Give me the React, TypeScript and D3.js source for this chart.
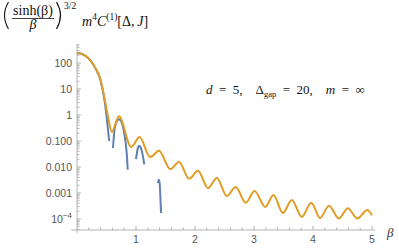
import { useEffect, useRef } from 'react'
import * as d3 from 'd3'

// orange: full curve
const orangeBeta = [0, 0.1, 0.2, 0.3, 0.4, 0.47, 0.52, 0.59, 0.71, 0.92, 1.06, 1.24, 1.39, 1.58, 1.73, 1.9, 2.05, 2.22, 2.37, 2.54, 2.69, 2.86, 3.01, 3.19, 3.33, 3.49, 3.64, 3.81, 3.97, 4.12, 4.27, 4.44, 4.59, 4.75, 4.92, 5.0]
const orangeValue = [240, 214, 148, 71, 22.4, 3.98, 1.0, 0.224, 0.89, 0.059, 0.141, 0.024, 0.042, 0.0083, 0.0155, 0.0035, 0.0071, 0.00155, 0.0038, 0.00076, 0.0017, 0.00042, 0.0012, 0.00029, 0.00083, 0.00017, 0.00054, 0.00012, 0.00042, 0.00011, 0.00032, 0.000105, 0.00026, 0.000105, 0.00022, 0.00014]

// blue: truncated pieces
const blueBeta = [
  [0, 0.1, 0.2, 0.3, 0.4, 0.47, 0.51, 0.545],
  [0.61, 0.64, 0.68, 0.71, 0.75, 0.8, 0.84, 0.86],
  [1.0, 1.03, 1.05, 1.08, 1.11, 1.14],
  [1.373, 1.385, 1.4, 1.41, 1.425]
]
const blueValue = [
  [240, 214, 148, 70, 21, 3.2, 0.6, 0.1],
  [0.054, 0.32, 0.6, 0.68, 0.56, 0.2, 0.04, 0.0079],
  [0.02, 0.052, 0.065, 0.056, 0.032, 0.0126],
  [0.0024, 0.0032, 0.0025, 0.001, 0.00017]
]

const xTicks = [1, 2, 3, 4, 5]
const yTicks = [100, 10, 1, 0.1, 0.01, 0.001, 0.0001]
const yTickLabels = ['100', '10', '1', '0.100', '0.010', '0.001', '10^-4']

export default function App() {
  const ref = useRef<SVGSVGElement>(null)

  useEffect(() => {
    const svg = d3.select(ref.current)
    svg.selectAll('*').remove()

    const x = d3.scaleLinear().domain([0, 5]).range([77, 372])
    const y = d3.scaleLog().domain([1e-4, 100]).range([219, 63])
    const axisColor = '#b3b3b3'
    const labelColor = '#555'

    // axes lines
    svg.append('line')
      .attr('x1', 71).attr('x2', 375)
      .attr('y1', 230).attr('y2', 230)
      .attr('stroke', axisColor)
    svg.append('line')
      .attr('x1', 77).attr('x2', 77)
      .attr('y1', 44).attr('y2', 233)
      .attr('stroke', axisColor)

    // x ticks
    const xMinor = d3.range(0.2, 5.01, 0.2).filter(d => Math.abs(d - Math.round(d)) > 0.01)
    svg.append('g').selectAll('line').data(xMinor).join('line')
      .attr('x1', d => x(d)).attr('x2', d => x(d))
      .attr('y1', 230).attr('y2', 227.5)
      .attr('stroke', axisColor)
    svg.append('g').selectAll('line').data(xTicks).join('line')
      .attr('x1', d => x(d)).attr('x2', d => x(d))
      .attr('y1', 230).attr('y2', 226)
      .attr('stroke', axisColor)
    svg.append('g').selectAll('text').data(xTicks).join('text')
      .attr('x', d => x(d)).attr('y', 242.5)
      .attr('text-anchor', 'middle')
      .attr('font-family', 'Liberation Sans, sans-serif')
      .attr('font-size', 10.5)
      .attr('fill', labelColor)
      .text(d => d)

    // y ticks
    const yMinor: number[] = []
    for (let e = -5; e <= 2; e++) {
      for (let k = 2; k <= 9; k++) {
        const v = k * Math.pow(10, e)
        if (y(v) >= 44 && y(v) <= 230) yMinor.push(v)
      }
    }
    svg.append('g').selectAll('line').data(yMinor).join('line')
      .attr('x1', 77).attr('x2', 79.5)
      .attr('y1', d => y(d)).attr('y2', d => y(d))
      .attr('stroke', axisColor)
    svg.append('g').selectAll('line').data(yTicks).join('line')
      .attr('x1', 77).attr('x2', 81)
      .attr('y1', d => y(d)).attr('y2', d => y(d))
      .attr('stroke', axisColor)
    const yl = svg.append('g').selectAll('text').data(yTicks).join('text')
      .attr('x', 72).attr('y', d => y(d) + 3.8)
      .attr('text-anchor', 'end')
      .attr('font-family', 'Liberation Sans, sans-serif')
      .attr('font-size', 10.5)
      .attr('fill', labelColor)
    yl.each(function (_d, i) {
      const t = d3.select(this)
      const lab = yTickLabels[i]
      if (lab.includes('^')) {
        const [b, p] = lab.split('^')
        t.append('tspan').text(b)
        t.append('tspan').attr('dy', -4.5).attr('font-size', 8).text(p.replace('-', '\u2212'))
      } else {
        t.text(lab)
      }
    })

    // curves
    const line = d3.line<[number, number]>()
      .x(d => x(d[0]))
      .y(d => y(d[1]))
      .curve(d3.curveMonotoneX)

    blueBeta.forEach((bs, i) => {
      const pts = bs.map((b, j) => [b, blueValue[i][j]] as [number, number])
      svg.append('path')
        .attr('d', line(pts))
        .attr('fill', 'none')
        .attr('stroke', '#5e81b5')
        .attr('stroke-width', 2)
    })
    const opts = orangeBeta.map((b, j) => [b, orangeValue[j]] as [number, number])
    svg.append('path')
      .attr('d', line(opts))
      .attr('fill', 'none')
      .attr('stroke', '#e19c24')
      .attr('stroke-width', 2)

    // axis label beta
    svg.append('text')
      .attr('x', 387).attr('y', 237)
      .attr('font-family', 'Liberation Serif, serif')
      .attr('font-style', 'italic')
      .attr('font-size', 13)
      .attr('fill', '#333')
      .text('β')

    // annotation
    const ann = svg.append('text')
      .attr('x', 206).attr('y', 94)
      .attr('font-family', 'Liberation Serif, serif')
      .attr('font-size', 13)
      .attr('fill', '#111')
    ann.append('tspan').attr('font-style', 'italic').text('d')
    ann.append('tspan').text('\u2002=\u20025,\u2003Δ')
    ann.append('tspan').attr('font-size', 8.5).attr('dy', 3).text('gap')
    ann.append('tspan').attr('dy', -3).text('\u2002=\u200220,\u2003')
    ann.append('tspan').attr('font-style', 'italic').text('m')
    ann.append('tspan').text('\u2002=\u2002∞')

    // y label
    const g = svg.append('g')
      .attr('font-family', 'Liberation Serif, serif')
      .attr('fill', '#111')
    g.append('path').attr('d', 'M 8.5 2 Q 0.5 15.5 8.5 29')
      .attr('fill', 'none').attr('stroke', '#111').attr('stroke-width', 1.1)
    g.append('path').attr('d', 'M 56.5 2 Q 64.5 15.5 56.5 29')
      .attr('fill', 'none').attr('stroke', '#111').attr('stroke-width', 1.1)
    g.append('text').attr('x', 33).attr('y', 14.5).attr('font-size', 14)
      .attr('text-anchor', 'middle').text('sinh(β)')
    g.append('line').attr('x1', 12).attr('x2', 54).attr('y1', 18.5).attr('y2', 18.5)
      .attr('stroke', '#111').attr('stroke-width', 0.8)
    g.append('text').attr('x', 33).attr('y', 29).attr('font-size', 14)
      .attr('text-anchor', 'middle').attr('font-style', 'italic').text('β')
    g.append('text').attr('x', 64).attr('y', 9).attr('font-size', 9.5).text('3/2')
    const yt = g.append('text').attr('x', 82).attr('y', 26).attr('font-size', 14)
    yt.append('tspan').attr('font-style', 'italic').text('m')
    yt.append('tspan').attr('font-size', 9.5).attr('dy', -6).text('4')
    yt.append('tspan').attr('dy', 6).attr('font-style', 'italic').text('C')
    yt.append('tspan').attr('font-size', 9.5).attr('dy', -6).text('(1)')
    yt.append('tspan').attr('dy', 6).text('[Δ,\u2009')
    yt.append('tspan').attr('font-style', 'italic').text('J')
    yt.append('tspan').text(']')
  }, [])

  return (
    <svg ref={ref} width={399} height={249}
      style={{ position: 'absolute', left: 0, top: 0, background: '#fff' }} />
  )
}
